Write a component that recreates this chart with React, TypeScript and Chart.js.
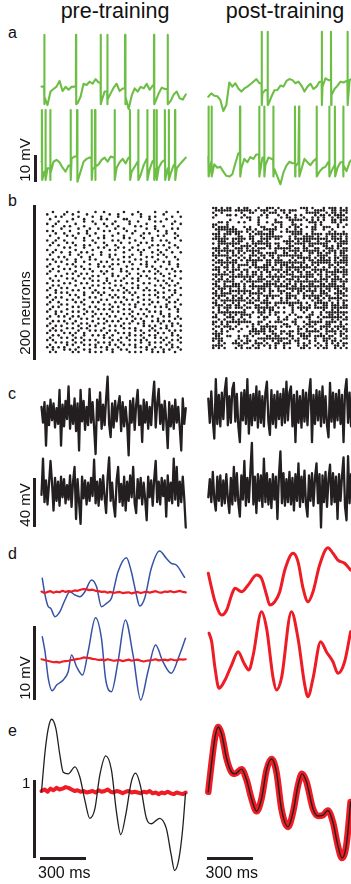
import React, { useEffect, useRef } from "react";
import { Chart, registerables } from "chart.js";
Chart.register(...registerables);

const FONT = '"Liberation Sans", Arial, Helvetica, sans-serif';
const GREEN = "#6dbe45";
const BLUE = "#3553a4";
const RED = "#ee1d25";
const BLACK = "#231f20";

// ---------- panel a: membrane potential (mV rel. rest), samples every 19.6 ms ----------
const A_DT = 19.6;
const A_PRE_TOP = [1.3,-2.6,-5.8,-0.6,0.4,1.3,3.5,-0.4,1.2,0.1,1.2,1.3,-5.1,-2.6,2.4,1.9,3.2,2.4,4.2,2.9,-4.2,-0.6,-3.8,-1.3,0.9,2.4,-0.4,0.6,-2.6,-7.3,-2.2,0.6,-0.6,1.2,0.6,2.4,0.1,1.7,-4.2,-1.3,0.9,0.4,-0.6,-4.2,-1.7,-0.6,-3.2,-3.7,-1.7];
const A_PRE_TOP_SPIKES = [18,225,386,429,545,734,823];
const A_PRE_BOT = [0.1,-3.7,-2.4,-4.4,0.1,0.8,-0.1,-2.2,-3.7,-1.4,1.4,2.1,-7.6,-3.7,0.1,1.2,1.7,-2.4,-1.8,-0.9,0.8,1.7,0.1,2.1,1.7,-2.2,-0.1,1.2,-0.5,1.7,-3.7,-1.8,0.1,-5.0,-1.2,1.2,-2.7,0.4,-2.7,-2.2,-0.1,0.8,-2.4,-4.4,-1.2,-2.4,-0.9,0.4,1.7];
const A_PRE_BOT_SPIKES = [3,26,57,190,232,327,349,477,577,631,690,734,751,805,830,871];
const A_POST_TOP = [-2.6,-1.3,-2.2,-2.4,-3.8,-8.1,-5.8,2.9,1.3,2.6,0.6,-0.6,0.6,1.3,2.2,3.2,4.2,2.6,-1.3,0,-5.5,-2.6,-0.1,0,1.7,1.3,3.5,4.2,3.8,2.6,3.2,1.7,-0.6,1.3,2.4,0.4,1.3,3.2,1.3,4.5,3.8,-1.9,0.4,1.7,3.2,2.9,3.5,3.8,4.5];
const A_POST_TOP_SPIKES = [348,387,740,800,908];
const A_POST_BOT = [2.1,0.1,-0.9,-2.2,-1.8,-3.7,-5.3,-5.6,-4.7,-0.5,3.3,-2.4,1.2,-0.1,1.9,1.2,2.9,-1.2,1.7,-1.2,1.7,1.2,-2.7,-5.6,-8.6,-4.0,-1.4,0.1,-0.5,-1.8,-0.1,-2.7,1.2,-0.1,-1.2,0.4,1.4,-3.7,-2.4,-1.8,0.1,-3.5,-1.2,-2.2,-0.1,-1.2,-3.5,-0.1,1.4];
const A_POST_BOT_SPIKES = [2,22,207,332,365,424,565,592,707,789,826,880];
const A_PEAKS = [21.2, 20.0, 22.4, 21.3];
const A_AHPS = [-5.5, -6.9, -5.8, -5.6];

// ---------- panel b: spike rasters (rows = neurons, columns = 19.6 ms bins) ----------
const RASTER_PRE = [
"..o....o...o.....o..o......o....o.....o...o...o.",
"o.....o..o....o.......o..o....o..o.......o......",
"...o.o.....o....o..o.....o.......o..o.o.....o..o",
".o.......o...o.....o.o.....oo.......o.....o.....",
"....o..o.....o..o.......o....o..o.....o.o....o..",
"o..o......o......o..o..o.....o.....o........o..o",
"..o...o.o....o.......o...o.....o.o....o..o......",
".....o.....o...o..o.....o..o.......o..o.....o.o.",
"o.o.....o.....o.....o.o.....o..o.......o..o.....",
"...o..o....o..o..o.......o....o...o.o.....o..o..",
".o.....o.o.....o....o..o...o.....o.....o.o....o.",
"....o.....o..o....o.o......o.o....o..o.......o..",
"o..o..o......o..o......o.o.....o.....o..o.o....o",
"..o....o.o.......o..o.....o..o...o.o.......o....",
".o..o.....o..o.o.....o..o.......o....o.o.o...o..",
"......o.o....o....o.o....o.o..o.....o......o..o.",
"o..o......o.....o.....o.o....o..o.o....o..o.....",
"..o..o..o...o.o....o.......o.....o...o..o...o..o",
".o......o..o....o..o..o.o.....o..o.....o.o......",
"....o.o.....o..o......o....o.o.....o.o....o..o..",
"o.o....o..o....o.o.....o.o.....o.o.....o......o.",
"...o.o....o..o.....o.o.....o.o.....o..o..o.o....",
".o.....o.o.....o..o....o.o....o..o.o.......o..o.",
"o...o.....o.o.....o.o.o.....o......o.o..o.....o.",
"..o...o.o....o.o.......o..o...o.o.....o...o.o...",
".o..o.....o.....o..o.o....o.o.....o.o..o.....o.o",
"o......o.o..o.o.....o..o.....o..o.....o.o..o....",
"...o.o.....o....o.o....o.o..o....o.o.....o...o..",
".o.....o.o...o.o.....o.....o..o.o...o.o....o...o",
"..o.o.....o.....o.o..o..o.o.....o......o.o..o...",
"o.....o.o...o.o.....o.o.....o.o...o.o.....o...o.",
"..o.o.....o.....o.o.....o.o.....o.....o.o..o.o..",
".o...o.o.....o.o....o.o....o..o.o..o.....o.....o",
"o..o.....o.o.....o.....o.o..o.....o.o.o....o.o..",
"...o.o.o.....o..o.o.o......o.o.o.......o.o...o..",
".o......o.o..o.....o..o.o.....o...o.o.o.....o..o",
"o..o.o.....o...o.o.....o.o.o....o......o.o.o....",
"..o....o.o...o.....o.o......o.o...o.o.....o...o.",
".o..o.....o.o...o.o.....o.o.....o....o.o...o.o..",
"o....o.o.....o......o.o....o.o.o..o.o.....o....o",
"..o.o....o.o...o.o.....o.o.....o......o.o.o..o..",
".o.....o.....o....o.o.o....o.o...o.o.......o..o.",
"o..o.o...o.o..o.o......o.o....o.....o.o.o.....o.",
"...o...o.....o...o.o.o.....o.o..o.o.....o..o....",
".o..o.o..o.o....o.....o.o.....o....o.o...o.o..o.",
"o.......o...o.o...o.o.....o.o..o.o.....o.....o.o",
"..o.o.o...o.....o....o.o.o....o...o..o.o.o.o....",
".o.....o.o..o.o...o.o......o.o..o.o.....o...o.o.",
"o..o.o.....o...o.o....o.o.o.......o.o.o...o.o..o",
"..o....o.o..o.o.....o......o.o.o.....o..o.o.....",
".o.o.o.....o...o.o.o..o.o......o.o..o.o....o.o.o",
"o.....o.o.o..o.......o...o.o.o....o....o.o..o...",
"..o.o....o...o..o.o.o..o.....o.o.o..o.o.....o.o.",
".o...o.o..o.o.......o.o...o.o.....o...o.o.o....o",
"o.o......o...o.o.o.....o.o...o.o.o.o.....o..o.o.",
"...o.o.o..o.o.....o.o.o...o......o..o.o.o..o...o",
".o.....o.o...o.o.o....o.o..o.o.o....o.....o.o...",
"o.o.o.o....o.....o.o.o...o.....o.o.o..o.o...o.o.",
"..o...o.o.o..o.o.....o.o..o.o......o.o...o.o...o",
".o.o.....o.o...o.o.o...o.....o.o.o...o.o.o...o..",
];
const RASTER_POST = [
"oo.o.oo..o.oo...o..ooo.o.......ooo.o...o.ooo.o.o",
".oooooo.oooooo.o.ooo..o.oo.ooo...o..oooo..oo.ooo",
"o..o......o..oo...o.ooo..o.o.....ooooo..o.oo.o.o",
".o...oo.o..o.....o.o...o..o..o.o....o.oo.o.oooo.",
"o.........o.oo..o..o....o.oo.o..o..o.o.o..o.oo.o",
"......o......o..o.....o....ooooo.o.o.o.o..oo.ooo",
"..oo.o...o.o....o..o..ooo...o.....ooo.o...oo.o..",
"oo...o..........o....o..o...oo.o....o.o.....o..o",
"o.oooo.o...o.o...oo...o.o..o.oo..o.oo..ooo..o.o.",
".oooooooo...oo.o..ooooo...o..o.o...oo..o..o.....",
"..o..oooooo.o.o.oo..oo..o.oooooo...o.....o.o..o.",
"ooo.ooo.oo...o.ooooooo......oooo.o.oooo.oooooooo",
".oo.o....oo..oo..o.oooooo..o.o..oooo.o..o.oo.o.o",
"oooooo.ooooo.oo..oooo.oo...o.oooooooooooo.oooo.o",
"..ooo..o.oo...o.oo.o.....oooo.o.ooo..o..oo.o.ooo",
"o.oooooooo..o.ooooooo.oo..oo.oooo.ooooooo...oooo",
"..o..o.o..oooo.o...oo..o...oo...o.oo...oo.o.oo..",
"ooo.oo..ooo.o.o.ooo.o.oooooo.oo.oo..oo..ooo.o.oo",
".ooooooo.oo.ooooo.....o..o.oooo.oooooo.o.ooo.ooo",
"o.o..o.o.o.o..o.oo.oooo..oo..o.o..oo.oo.oo.o.oo.",
"oooooo.oo.o..ooo.oo.oo.ooooooooo..o..oooo..o.ooo",
".o...oo..o.o.o..o.o..o.o....o.ooooo.o.oo.o.oo.oo",
"o.oo.o.oo.o.oooooo.oo.ooo..o.o..o.oo.ooooo.o.ooo",
".oooooooo...o.oo...oo.ooooooooooo..ooooooo.ooooo",
"o..o.o.o.oooo.oo..ooo.o.ooo.o..o.o.o.o...oo.o..o",
".oo.oo.o.o...o.ooooo.o..o.ooooooooo.o..o.o.o.oo.",
"ooo..o.ooo.oo...o.oo.oooo.oo.oo.o..oooooo..oo.oo",
"..o.o.oo..o.o.oo.o.oo..o.oo.o.oo.oo.o.o.oooooooo",
"oooooo.o.oo.o.oo.o..o.o.o.ooo..o.ooo.oo.o.oo..oo",
".o.o..ooooooooo.oo.ooooooo..oooooooo..o.oo.oo.o.",
"o.oo.o.o...o.o..ooo..o.o..ooo.o..o..o.ooo.oooo.o",
".oo.oooo..o.oooooo.oo.oo.o.o.oooooooooo.o.oo.ooo",
"oo..o..ooo.o..o...ooooo.o.oo.o.o..oo..oo.ooo..o.",
".oo.oooooo.o.oooooooo.ooooo.oo.oooooooooooooooo.",
"o.ooo.o..o.o..o.ooo.o..o..ooooooo.o.o.o.oo.oo.oo",
".o.o..oooooooo..o.o.oo.ooo..o.oo.oooo.oo.o..oo.o",
"oo.oooo..o.o.ooooo..o...o.oo..o.o..o..ooo..oooo.",
".oooo..oo.o..o..o.oooooo..oooo..ooooooo.oo..o.oo",
"o.o..o.o.oo.o.o.o..o.o..o.oo.o..o.o.oo.o.ooooo..",
".o.ooooooooo.o.oo.oo....o.o...o....o.oo..o..o.oo",
"oo..o..o.o..ooo..oooo.oooooooooo.o..ooooo.o.o.o.",
".ooo.oo.oo.o...oo..o..o....oo..o..o.o..oo.ooo.oo",
"o.o.ooo.ooo.oo.ooooooo.o.o..o.ooooo.ooooo.oooooo",
"..o..o.....o....o.o.oo......o..o.o.....o..o.o...",
"o.oooooooooo..o.ooo.o.oo.o..o...o..o..o.oooooooo",
".o..o.o.o.oooo...o..o.o....o.o....oo..o..oo.o.o.",
"oo...ooo..o..o..o.oo...o..o...oo.oo..o.ooooooo.o",
"..o.o..o.o.o......o....o.oo..o....o...o...o.o.oo",
"oo.o.ooooooooo..oo..o.ooo...oo..o.ooooo.oooo.o..",
"o..o.o...o....o.o..o.....oo..o...oo.o...oo...o.o",
".oo.ooo.o...o.o..oooooo.o.oo..o.o.oo..oooo.oooo.",
"o..o..oo..o...oo.oo.o.o.......oo.o..o.o.o.o.o.oo",
".o.o.o...o...oooooo.oo..oo.oo.o..ooooo..oooo.o.o",
"oooo.........o.oo.o..oo.o.oo..ooo.o...o.o..o.oo.",
".oo..oo..o.oo.o....oo.oo...oo..oooo.oooo.oo..o.o",
"oooo.....o..o...ooooooooooo.o.o.oo..o..ooo.o..oo",
"o.oo....o.o.oo.o..o..o.oo..o.oo...o.o..oo.oo.o..",
"..o.o..ooo.oo..ooo.o..oo.ooo..o.o.o..o..o.o.o.oo",
"oooo.....oo...o.o.o.o.o..o....o.oo..o.o.o..oo.o.",
"o.o.o...o.o.oo.oo...o.o..o.o...oo.o..o.oo..o.o.o",
];

// ---------- panel c: network unit activity (mV), samples every 9.8 ms ----------
const C_DT = 9.8;
const C_PRE_TOP = [5,-8,9,-27,6,-10,11,-6,8,-12,4,-9,19,-27,7,-11,10,-5,22,-13,6,-9,12,-15,8,-31,19,-7,10,-14,5,-10,20,-8,9,-12,-34,11,-6,17,-13,7,-10,12,30,-9,-20,8,-12,10,-7,6,14,-15,9,-11,5,-9,-35,10,-8,12,-14,7,19,-10,6,-24,11,-8,9,-13,5,-10,12,26,-12,8,20,-9,7,-14,10,-6,-29,9,-11,6,-13,11,-8,5,-12,-31,12,-9,4];
const C_PRE_BOT = [-4,26,-10,8,-12,5,24,6,-17,10,-9,7,-13,11,-6,9,-11,4,-8,12,-14,7,19,-24,9,-10,-28,11,-7,8,-12,6,-9,10,-5,25,-11,7,-13,9,-8,12,-6,-19,10,27,-9,6,-12,-22,8,19,-10,5,-13,11,-17,7,-9,12,-6,19,-11,-19,9,-7,10,-12,6,-8,-25,11,-6,8,-13,9,24,-10,7,-12,10,-5,8,-22,12,-9,6,-11,26,-8,19,-13,7,-10,11,-7,-31];
const C_POST_TOP = [8,-12,14,-10,-25,24,-13,11,-15,13,-9,15,25,-14,10,-12,16,21,-11,12,-15,-28,13,-10,15,-13,24,-21,11,-14,12,-10,18,-16,14,-12,10,-15,13,22,-11,-22,15,-13,11,-16,14,-9,12,-14,16,-12,22,-10,13,18,-15,11,-28,14,-12,10,-16,15,-11,13,-14,12,24,-28,11,-13,15,-10,14,-15,18,-12,10,-14,-24,21,-11,13,-16,12,-10,15,-13,11,-28,14,24,-12,13,-15,10];
const C_POST_BOT = [-6,9,-10,15,-8,-17,11,-9,12,-13,8,-11,13,-7,-19,10,-12,19,-9,14,-11,-22,12,-8,24,-13,10,-10,15,39,-12,11,-19,13,-9,12,-14,26,-10,14,-12,9,-15,13,-8,11,-24,12,32,-11,14,-13,9,-10,15,-12,10,-17,13,-9,22,-14,11,-10,16,-12,-22,12,-9,14,-13,10,22,-11,13,-31,12,-10,15,-14,9,21,-12,14,-10,11,-24,13,-9,12,27,-14,-25,28,-11,13,-9];

// ---------- panel d: target (blue) and output (red), mV ----------
const D_T_PRE1 = [5,23,44,60,88,120,153,185,218,250,283,326,359,391,424,456,499,554,586,619,640,673,716,770,814,846,879,933];
const D_V_PRE1 = [1.89,-0.36,-1.95,-2.16,-3.30,-2.62,-1.04,0.08,-0.36,-0.59,0.08,1.66,0.76,-1.95,-1.49,-0.81,2.78,4.68,2.78,-0.36,-1.85,-0.81,3.24,5.58,4.59,3.92,3.69,2.03];
const D_T_PRE2 = [5,23,44,70,99,142,174,196,229,268,304,352,391,419,456,499,547,597,647,694,744,792,846,900,939];
const D_V_PRE2 = [3.15,1.12,-2.47,-4.15,-3.38,-2.70,-1.58,0.68,-0.91,-2.03,1.12,5.72,2.93,-2.70,-4.28,-0.23,5.41,0.68,-5.41,-1.58,2.03,-0.23,-1.80,0.68,2.93];
const D_OUT_DT = 19.6;
const D_OUT_PRE1 = [0.1,-0.1,0.05,0.15,-0.05,0.1,0,0.2,0.05,0.15,0.1,0.25,0.2,0.35,0.45,0.4,0.3,0.35,0.2,0.15,0.05,0.1,-0.05,0.05,-0.1,0,0.05,-0.1,-0.05,0,-0.15,-0.05,0.05,-0.1,0,0.1,-0.05,0.05,0.15,0,-0.05,0.1,0.05,0.15,0,0.1,0.2,0.05,0];
const D_OUT_PRE2 = [0.1,0,-0.1,-0.2,-0.3,-0.25,-0.35,-0.2,-0.15,-0.1,0,0.05,0.15,0.2,0.35,0.3,0.25,0.15,0.1,0,0.05,-0.05,0.1,0,-0.1,-0.05,0,-0.15,-0.05,0.05,-0.1,0,0.05,-0.1,-0.2,-0.1,-0.05,0,0.1,-0.05,0,0.05,-0.05,0.1,0,-0.05,0.1,0.05,0.1];
const D_T_POST1 = [0,22,44,87,120,152,174,217,260,315,347,380,401,434,466,499,553,585,618,650,683,726,780,813,845,889,928];
const D_V_POST1 = [2.57,0.54,-1.27,-3.07,-2.39,-0.36,0.54,0.08,0.99,2.34,1.89,-0.36,-1.72,-1.27,0.08,3.01,5.27,4.14,0.54,-1.27,0.08,3.69,6.03,5.27,4.36,3.92,3.01];
const D_T_POST2 = [5,22,44,70,109,152,195,228,265,293,347,380,423,445,477,542,585,629,650,683,733,770,813,845,889,928];
const D_V_POST2 = [3.61,2.47,-1.12,-3.82,-2.70,-0.68,1.12,-0.23,-1.35,0.68,6.53,4.28,-2.47,-4.05,-2.47,6.53,2.93,-3.38,-4.96,-2.47,2.47,1.12,-0.23,-1.80,-0.23,3.82];

// ---------- panel e: target (black) and readout (red) ----------
const E_T_PRE = [0,23,44,66,94,120,142,174,218,250,283,315,348,380,419,456,489,517,549,586,614,645,684,716,770,814,846,868,896,921,939];
const E_V_PRE = [-0.01,0.50,0.80,0.92,0.80,0.46,0.24,0.22,0.31,0.18,-0.12,-0.35,-0.23,0.20,0.45,0.27,-0.27,-0.56,-0.31,0.12,0.23,0.07,-0.35,-0.42,-0.35,-0.48,-0.82,-1.02,-0.87,-0.48,-0.03];
const E_OUT_DT = 19.6;
const E_OUT_PRE = [0.0,0.02,-0.01,0.03,0.01,0.04,0.02,0.03,0.05,0.04,0.02,0.0,0.01,-0.01,0.0,-0.02,-0.01,0.0,-0.02,0.01,-0.01,0.0,0.02,-0.01,-0.02,0.0,-0.01,-0.03,-0.01,0.0,-0.02,-0.01,-0.02,-0.03,-0.01,-0.02,0.0,-0.03,-0.02,-0.04,-0.02,-0.03,-0.01,-0.03,-0.04,-0.02,-0.03,-0.04,-0.02];
const E_T_POST = [0,22,44,65,87,120,152,174,217,250,282,315,347,380,412,445,477,520,553,585,611,640,683,715,748,780,813,845,871,900,928];
const E_V_POST = [-0.01,0.37,0.69,0.82,0.73,0.41,0.24,0.22,0.28,0.14,-0.10,-0.26,-0.10,0.27,0.41,0.24,-0.23,-0.46,-0.27,0.07,0.22,0.12,-0.23,-0.32,-0.31,-0.25,-0.40,-0.70,-0.86,-0.70,-0.14];

// ---------- helpers ----------
type Pt = { x: number; y: number };
type Map1 = { d0: number; p0: number; d1: number; p1: number };
type Box = { left: number; top: number; width: number; height: number };

const toXY = (t: number[], v: number[]): Pt[] => t.map((x, i) => ({ x, y: v[i] }));
const sampled = (v: number[], dt: number): Pt[] => v.map((y, i) => ({ x: i * dt, y }));
function spikeTrace(v: number[], dt: number, spikes: number[], peak: number, ahp: number): Pt[] {
  const pts = sampled(v, dt);
  for (const t of spikes) {
    const i = Math.min(v.length - 1, Math.floor(t / dt));
    pts.push({ x: t - 1, y: v[i] }, { x: t, y: peak }, { x: t + 1.5, y: ahp });
  }
  return pts.sort((a, b) => a.x - b.x);
}
function rasterPoints(rows: string[]): Pt[] {
  const pts: Pt[] = [];
  rows.forEach((row, r) => {
    for (let c = 0; c < row.length; c++) if (row[c] === "o") pts.push({ x: c + 0.5, y: r + 0.5 });
  });
  return pts;
}
function rangeFor(m: Map1, c0: number, c1: number): [number, number] {
  const k = (m.p1 - m.p0) / (m.d1 - m.d0);
  const a = m.d0 + (c0 - m.p0) / k;
  const b = m.d0 + (c1 - m.p0) / k;
  return [Math.min(a, b), Math.max(a, b)];
}

const MS_BAR = 300;
const MS_BAR_PX = 46;
const X_LEFT = 41.5;
const X_RIGHT = 208.3;
const tMap = (x0: number): Map1 => ({ d0: 0, p0: x0, d1: MS_BAR, p1: x0 + MS_BAR_PX });
const vMap = (zeroY: number, unit: number, unitPx: number): Map1 => ({ d0: 0, p0: zeroY, d1: unit, p1: zeroY - unitPx });

const line = (data: Pt[], color: string, width: number, smooth = false) => ({
  data,
  borderColor: color,
  borderWidth: width,
  pointRadius: 0,
  fill: false,
  clip: false as any,
  tension: 0,
  cubicInterpolationMode: smooth ? "monotone" : "default",
  borderJoinStyle: "round",
  borderCapStyle: "round",
});

// datasets: first in the list is drawn on top
function Plot(props: { box: Box; xmap: Map1; ymap: Map1; datasets: any[]; type?: "line" | "scatter" }) {
  const ref = useRef<HTMLCanvasElement>(null);
  const { box, xmap, ymap, datasets } = props;
  useEffect(() => {
    const [xmin, xmax] = rangeFor(xmap, box.left, box.left + box.width);
    const [ymin, ymax] = rangeFor(ymap, box.top, box.top + box.height);
    const ky = (ymap.p1 - ymap.p0) / (ymap.d1 - ymap.d0);
    const chart = new Chart(ref.current as HTMLCanvasElement, {
      type: props.type || "line",
      data: { datasets },
      options: {
        animation: false,
        responsive: false,
        maintainAspectRatio: false,
        events: [],
        layout: { padding: 0 },
        plugins: { legend: { display: false }, tooltip: { enabled: false }, title: { display: false } },
        scales: {
          x: { type: "linear", display: false, min: xmin, max: xmax },
          y: { type: "linear", display: false, min: ymin, max: ymax, reverse: ky > 0 },
        },
      } as any,
    } as any);
    return () => chart.destroy();
  }, []);
  return (
    <canvas
      ref={ref}
      width={box.width}
      height={box.height}
      style={{ position: "absolute", left: box.left, top: box.top, width: box.width, height: box.height }}
    />
  );
}

function Txt(props: { text: string; left: number; baseline: number; size: number; center?: boolean }) {
  const { text, left, baseline, size, center } = props;
  return (
    <div
      style={{
        position: "absolute",
        left,
        top: baseline - 0.8465 * size,
        fontSize: size,
        lineHeight: 1,
        fontFamily: FONT,
        color: "#111",
        whiteSpace: "nowrap",
        transform: center ? "translateX(-50%)" : undefined,
      }}
    >
      {text}
    </div>
  );
}
function VTxt(props: { text: string; cx: number; cy: number; size: number }) {
  return (
    <div
      style={{
        position: "absolute",
        left: props.cx,
        top: props.cy,
        fontSize: props.size,
        lineHeight: 1,
        fontFamily: FONT,
        color: "#111",
        whiteSpace: "nowrap",
        transform: "translate(-50%,-50%) rotate(-90deg)",
      }}
    >
      {props.text}
    </div>
  );
}
function Bar(props: { left: number; top: number; width: number; height: number }) {
  return <div style={{ position: "absolute", background: BLACK, ...props }} />;
}

export default function App() {
  const aMapTop = vMap(90, 10, 26);
  const aMapBot = vMap(162, 10, 26);
  const cMap = (zy: number) => vMap(zy, 40, 48.4);
  const dMapTop = vMap(592.3, 10, 74);
  const dMapBot = vMap(660, 10, 74);
  const eMap = vMap(791, 1, 78);
  const rasterPre = rasterPoints(RASTER_PRE);
  const rasterPost = rasterPoints(RASTER_POST);
  const dot = (data: Pt[]) => ({ data, pointRadius: 1.3, pointBackgroundColor: BLACK, pointBorderWidth: 0, showLine: false, clip: false });
  const GW = 2.1;
  const CW = 2.3;

  return (
    <div style={{ position: "absolute", left: 0, top: 0, width: 351, height: 884, overflow: "hidden", background: "#fff" }}>
      <Txt text="pre-training" left={115} baseline={19.5} size={21.5} center />
      <Txt text="post-training" left={285} baseline={19.5} size={21.5} center />
      <Txt text="a" left={8} baseline={38.3} size={16} />
      <Txt text="b" left={8} baseline={206.7} size={16} />
      <Txt text="c" left={8} baseline={399.3} size={16} />
      <Txt text="d" left={8} baseline={559.3} size={16} />
      <Txt text="e" left={8} baseline={736.7} size={16} />

      {/* a */}
      <Plot box={{ left: 38, top: 28, width: 152, height: 86 }} xmap={tMap(X_LEFT)} ymap={aMapTop}
        datasets={[line(spikeTrace(A_PRE_TOP, A_DT, A_PRE_TOP_SPIKES, A_PEAKS[0], A_AHPS[0]), GREEN, GW)]} />
      <Plot box={{ left: 38, top: 104, width: 152, height: 86 }} xmap={tMap(X_LEFT)} ymap={aMapBot}
        datasets={[line(spikeTrace(A_PRE_BOT, A_DT, A_PRE_BOT_SPIKES, A_PEAKS[1], A_AHPS[1]), GREEN, GW)]} />
      <Plot box={{ left: 204, top: 26, width: 147, height: 88 }} xmap={tMap(X_RIGHT)} ymap={aMapTop}
        datasets={[line(spikeTrace(A_POST_TOP, A_DT, A_POST_TOP_SPIKES, A_PEAKS[2], A_AHPS[2]), GREEN, GW)]} />
      <Plot box={{ left: 204, top: 100, width: 147, height: 90 }} xmap={tMap(X_RIGHT)} ymap={aMapBot}
        datasets={[line(spikeTrace(A_POST_BOT, A_DT, A_POST_BOT_SPIKES, A_PEAKS[3], A_AHPS[3]), GREEN, GW)]} />
      <Bar left={33.5} top={155} width={3} height={26.5} />
      <VTxt text="10 mV" cx={24.1} cy={160} size={15} />

      {/* b */}
      <Plot type="scatter" box={{ left: 39, top: 204, width: 150, height: 156 }}
        xmap={{ d0: 0, p0: 42, d1: 48, p1: 186 }} ymap={{ d0: 0, p0: 207, d1: 60, p1: 357 }} datasets={[dot(rasterPre)]} />
      <Plot type="scatter" box={{ left: 205, top: 200, width: 146, height: 156 }}
        xmap={{ d0: 0, p0: 208, d1: 48, p1: 352 }} ymap={{ d0: 0, p0: 203, d1: 60, p1: 353 }} datasets={[dot(rasterPost)]} />
      <Bar left={33.3} top={205} width={3} height={155} />
      <VTxt text="200 neurons" cx={24.1} cy={313} size={15} />

      {/* c */}
      <Plot box={{ left: 38, top: 368, width: 152, height: 94 }} xmap={tMap(X_LEFT)} ymap={cMap(413)}
        datasets={[line(sampled(C_PRE_TOP, C_DT), BLACK, CW)]} />
      <Plot box={{ left: 38, top: 448, width: 152, height: 86 }} xmap={tMap(X_LEFT)} ymap={cMap(490)}
        datasets={[line(sampled(C_PRE_BOT, C_DT), BLACK, CW)]} />
      <Plot box={{ left: 204, top: 370, width: 147, height: 80 }} xmap={tMap(X_RIGHT)} ymap={cMap(408.3)}
        datasets={[line(sampled(C_POST_TOP, C_DT), BLACK, CW)]} />
      <Plot box={{ left: 204, top: 434, width: 147, height: 100 }} xmap={tMap(X_RIGHT)} ymap={cMap(490)}
        datasets={[line(sampled(C_POST_BOT, C_DT), BLACK, CW)]} />
      <Bar left={33.3} top={478.3} width={3} height={48.4} />
      <VTxt text="40 mV" cx={24.1} cy={505} size={15} />

      {/* d */}
      <Plot box={{ left: 38, top: 543, width: 152, height: 85 }} xmap={tMap(X_LEFT)} ymap={dMapTop}
        datasets={[line(sampled(D_OUT_PRE1, D_OUT_DT), RED, 2.2), line(toXY(D_T_PRE1, D_V_PRE1), BLUE, 1.5, true)]} />
      <Plot box={{ left: 38, top: 605, width: 152, height: 105 }} xmap={tMap(X_LEFT)} ymap={dMapBot}
        datasets={[line(sampled(D_OUT_PRE2, D_OUT_DT), RED, 2.2), line(toXY(D_T_PRE2, D_V_PRE2), BLUE, 1.5, true)]} />
      <Plot box={{ left: 204, top: 543, width: 147, height: 85 }} xmap={tMap(X_RIGHT)} ymap={dMapTop}
        datasets={[line(toXY(D_T_POST1, D_V_POST1), RED, 3, true), line(toXY(D_T_POST1, D_V_POST1), BLUE, 1.5, true)]} />
      <Plot box={{ left: 204, top: 605, width: 147, height: 105 }} xmap={tMap(X_RIGHT)} ymap={dMapBot}
        datasets={[line(toXY(D_T_POST2, D_V_POST2), RED, 3, true), line(toXY(D_T_POST2, D_V_POST2), BLUE, 1.5, true)]} />
      <Bar left={33} top={626} width={3} height={74} />
      <VTxt text="10 mV" cx={24.1} cy={678} size={15} />

      {/* e */}
      <Plot box={{ left: 38, top: 708, width: 152, height: 172 }} xmap={tMap(X_LEFT)} ymap={eMap}
        datasets={[line(toXY(E_T_PRE, E_V_PRE), BLACK, 1.3, true), line(sampled(E_OUT_PRE, E_OUT_DT), RED, 4)]} />
      <Plot box={{ left: 204, top: 705, width: 147, height: 179 }} xmap={tMap(X_RIGHT)} ymap={eMap}
        datasets={[line(toXY(E_T_POST, E_V_POST), BLACK, 1.4, true), line(toXY(E_T_POST, E_V_POST), RED, 6.5, true)]} />
      <Bar left={33.3} top={780} width={3} height={78} />
      <Txt text="1" left={22} baseline={788} size={15} />
      <Bar left={40} top={857.3} width={46} height={3} />
      <Bar left={206.7} top={857.3} width={46.6} height={3} />
      <Txt text="300 ms" left={38} baseline={878.7} size={16} />
      <Txt text="300 ms" left={205.5} baseline={878.7} size={16} />
    </div>
  );
}
